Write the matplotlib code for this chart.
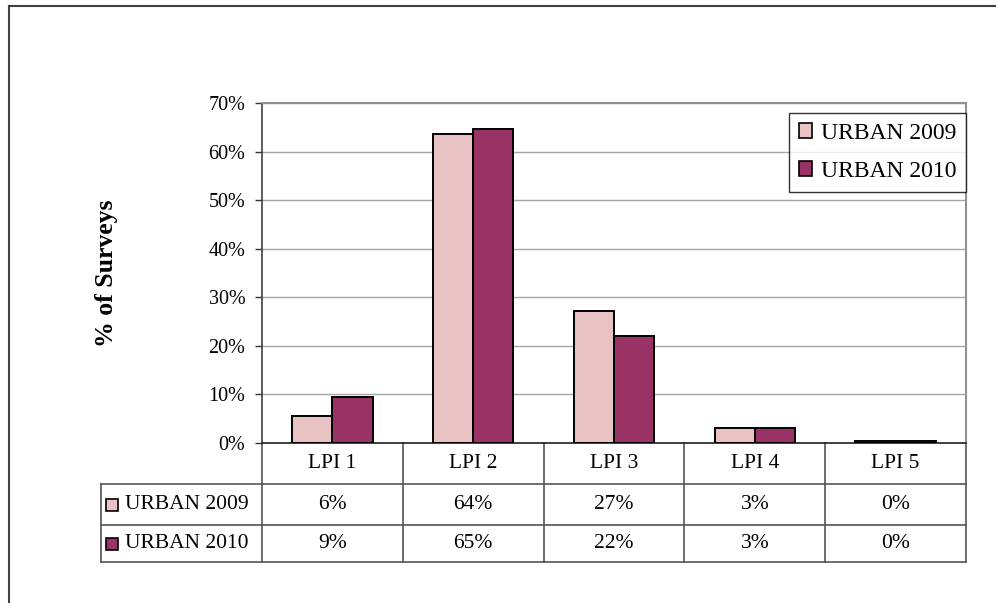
import numpy as np
import matplotlib
matplotlib.use('Agg')
import matplotlib.pyplot as plt
from matplotlib.lines import Line2D
from matplotlib.patches import Patch, Rectangle
import matplotlib.transforms as mtransforms

# dados (% de pesquisas)
categorias = ['LPI 1', 'LPI 2', 'LPI 3', 'LPI 4', 'LPI 5']
series = ['URBAN 2009', 'URBAN 2010']
urban_2009 = [5.6, 63.6, 27.2, 3.1, 0.4]
urban_2010 = [9.4, 64.7, 22.0, 3.1, 0.4]
cores = ['#E9C3C4', '#993366']

plt.rcParams['font.family'] = ['Liberation Serif', 'DejaVu Serif']

fig = plt.figure(figsize=(9.96, 6.03), dpi=100)
ax = fig.add_axes([262 / 996, 160 / 603, 704 / 996, 340 / 603])

x = np.arange(len(categorias))
largura = 0.285
valores = [urban_2009, urban_2010]
for i, (nome, vals) in enumerate(zip(series, valores)):
    desloc = (i - 0.5) * largura
    ax.bar(x + desloc, np.array(vals) / 100, largura, color=cores[i],
           edgecolor='black', linewidth=1.4, label=nome, zorder=3)

ax.set_xlim(-0.5, len(categorias) - 0.5)
ax.set_ylim(0, 0.70)
ax.set_yticks(np.arange(0, 0.71, 0.10))
ax.set_yticklabels([f'{int(round(t * 100))}%' for t in np.arange(0, 0.71, 0.10)])
ax.tick_params(axis='y', labelsize=14.5, length=5, width=1, color='#333333', pad=7)
ax.set_xticks([])
ax.grid(axis='y', color='#a6a6a6', linewidth=1, zorder=0)

for lado in ['top', 'right']:
    ax.spines[lado].set_color('#909090')
    ax.spines[lado].set_linewidth(1.5)
ax.spines['left'].set_color('#404040')
ax.spines['left'].set_linewidth(1.2)
ax.spines['bottom'].set_color('#202020')
ax.spines['bottom'].set_linewidth(1.2)

ax.set_ylabel('% of Surveys', fontsize=18.5, fontweight='bold')
ax.yaxis.set_label_coords(-0.205, 0.5)

# legenda
alcas = [Patch(facecolor=c, edgecolor='black', linewidth=1.2) for c in cores]
leg = ax.legend(alcas, series, loc='upper right', bbox_to_anchor=(1.0, 1 - 10 / 340),
                borderaxespad=0, fontsize=17, frameon=True, fancybox=False,
                handlelength=0.55, handleheight=0.55, handletextpad=0.35,
                labelspacing=0.72, borderpad=0.42)
leg.get_frame().set_edgecolor('black')
leg.get_frame().set_linewidth(1.0)

# tabela de dados abaixo do gráfico
trans = mtransforms.blended_transform_factory(ax.transData, ax.transAxes)
cor_tab = '#555555'
esq = -0.5 - 161 / 140.8
linhas_y = [0, -41 / 340, -82 / 340, -119 / 340]
for xv in np.arange(-0.5, len(categorias), 1.0):
    ax.add_line(Line2D([xv, xv], [0, linhas_y[-1]], transform=trans, color=cor_tab,
                       linewidth=1.2, clip_on=False))
ax.add_line(Line2D([esq, esq], [linhas_y[1], linhas_y[-1]], transform=trans,
                   color=cor_tab, linewidth=1.2, clip_on=False))
for yv in linhas_y[1:]:
    ax.add_line(Line2D([esq, len(categorias) - 0.5], [yv, yv], transform=trans,
                       color=cor_tab, linewidth=1.2, clip_on=False))

yc_cab = (linhas_y[0] + linhas_y[1]) / 2
for xi, cat in zip(x, categorias):
    ax.text(xi, yc_cab, cat, transform=trans, ha='center', va='center', fontsize=15.5)

for r, (nome, vals) in enumerate(zip(series, valores)):
    yc = (linhas_y[r + 1] + linhas_y[r + 2]) / 2
    for xi, v in zip(x, vals):
        ax.text(xi, yc, f'{v:.0f}%', transform=trans, ha='center', va='center',
                fontsize=15.5)
    # chave da legenda na linha
    lado = 12 / 140.8
    ax.add_patch(Rectangle((esq + 5 / 140.8, yc - 6 / 340), lado, 12 / 340,
                           transform=trans, facecolor=cores[r], edgecolor='black',
                           linewidth=1.2, clip_on=False))
    ax.text(esq + 24 / 140.8, yc, nome, transform=trans, ha='left', va='center',
            fontsize=15.5)

# moldura externa (apenas topo e esquerda visíveis)
fig.add_artist(Line2D([8.5 / 996, 8.5 / 996], [0, 1 - 5.5 / 603], color='#404040',
                      linewidth=1.5, transform=fig.transFigure))
fig.add_artist(Line2D([8.5 / 996, 1], [1 - 5.5 / 603, 1 - 5.5 / 603], color='#404040',
                      linewidth=1.5, transform=fig.transFigure))

fig.savefig('out.png', dpi=100)
